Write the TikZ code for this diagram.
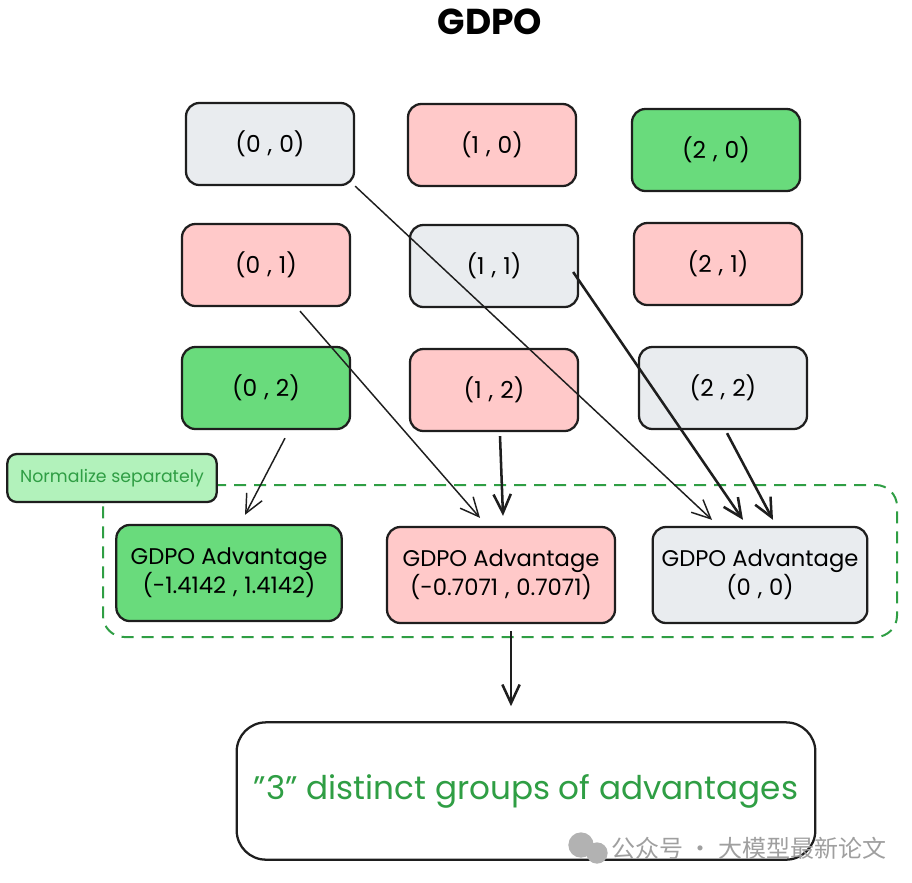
\documentclass[tikz,border=0pt]{standalone}
\usepackage{fontspec}
\setmainfont{Poppins}
\newfontfamily\cjk{Noto Sans CJK SC}
\usetikzlibrary{arrows.meta,calc}

\definecolor{cellgray}{HTML}{E9ECEF}
\definecolor{cellpink}{HTML}{FFC9C9}
\definecolor{cellgreen}{HTML}{69DB7C}
\definecolor{lightgreen}{HTML}{B2F2BB}
\definecolor{textgreen}{HTML}{2F9E44}
\definecolor{ink}{HTML}{1E1E1E}

\newcommand{\pr}[2]{(#1\hspace{.3em},\hspace{.3em}#2)}

\begin{document}
\begin{tikzpicture}[x=0.75pt,y=-0.75pt]
    \tikzset{cell/.style = {shape=rectangle, draw=ink, line width=1.7pt, rounded corners=10pt, minimum width=126pt, minimum height=61.5pt, font=\fontsize{17.5}{20}\selectfont}}
    \tikzset{adv/.style = {cell, minimum height=72pt, align=center, inner sep=2pt, font=\fontsize{17}{20}\selectfont}}
    \tikzset{thin/.style = {draw=ink, line width=1.1pt, -{Straight Barb[length=14pt,width=13pt]}}}
    \tikzset{thick/.style = {draw=ink, line width=1.9pt, -{Straight Barb[length=14pt,width=13pt]}}}
    \useasboundingbox (0,0) rectangle (912,882);

    % title
    \node[font=\fontsize{27}{30}\selectfont\bfseries] (title) at (490,22) {GDPO};

    % vertices
    \node[cell,fill=cellgray]  (g00) at (270,144) {\pr{0}{0}};
    \node[cell,fill=cellpink]  (g10) at (492,145) {\pr{1}{0}};
    \node[cell,fill=cellgreen] (g20) at (716,150) {\pr{2}{0}};
    \node[cell,fill=cellpink]  (g01) at (266,265) {\pr{0}{1}};
    \node[cell,fill=cellgray]  (g11) at (494,266) {\pr{1}{1}};
    \node[cell,fill=cellpink]  (g21) at (718,264) {\pr{2}{1}};
    \node[cell,fill=cellgreen] (g02) at (266,388) {\pr{0}{2}};
    \node[cell,fill=cellpink]  (g12) at (494,390) {\pr{1}{2}};
    \node[cell,fill=cellgray]  (g22) at (723,388) {\pr{2}{2}};

    % normalization group
    \draw[textgreen, line width=1.5pt, dash pattern=on 9pt off 6pt, rounded corners=16pt] (103,485) rectangle (897,637);
    \node[cell, fill=lightgreen, minimum width=157pt, minimum height=36pt, rounded corners=7pt, text=textgreen, font=\fontsize{13}{15}\selectfont] (norm) at (112,478) {Normalize separately};

    \node[adv,fill=cellgreen,minimum width=169pt] (a0) at (229,573) {GDPO Advantage\\\pr{-1.4142}{1.4142}};
    \node[adv,fill=cellpink,minimum width=171pt]  (a1) at (501,575) {GDPO Advantage\\\pr{-0.7071}{0.7071}};
    \node[adv,fill=cellgray,minimum width=161pt]  (a2) at (760,575) {GDPO Advantage\\\pr{0}{0}};

    \node[cell, minimum width=434pt, minimum height=103pt, rounded corners=22pt, text=textgreen, font=\fontsize{24.5}{28}\selectfont] (res) at (526,791) {\char"22 3\char"22{} distinct groups of advantages};

    % edges
    \draw[thin]  (g00.south east) -- ($(a2.north)+(-48,-6)$);
    \draw[thick] ($(g11.east)+(-6,6)$) -- ($(a2.north)+(-17,-6)$);
    \draw[thick] ($(g22.south)+(4,3)$) -- ($(a2.north)+(13,-6)$);
    \draw[thin]  ($(g01.south)+(34,4)$) -- ($(a1.north)+(-21,-8)$);
    \draw[thick] ($(g12.south)+(6,4)$) -- ($(a1.north)+(2,-10)$);
    \draw[thin]  ($(g02.south)+(19,8)$) -- ($(a0.north)+(16,-9)$);
    \draw[thick] ($(a1.south)+(10,7)$) -- ($(res.north)+(-15,-15)$);

    % watermark
    \fill[gray!60] (581,845) circle (9.5pt);
    \fill[gray!60] (597,853) circle (8pt);
    \node[text=gray!75, font=\cjk\fontsize{18}{20}\selectfont] (mark) at (749,848) {公众号 · 大模型最新论文};
\end{tikzpicture}
\end{document}
